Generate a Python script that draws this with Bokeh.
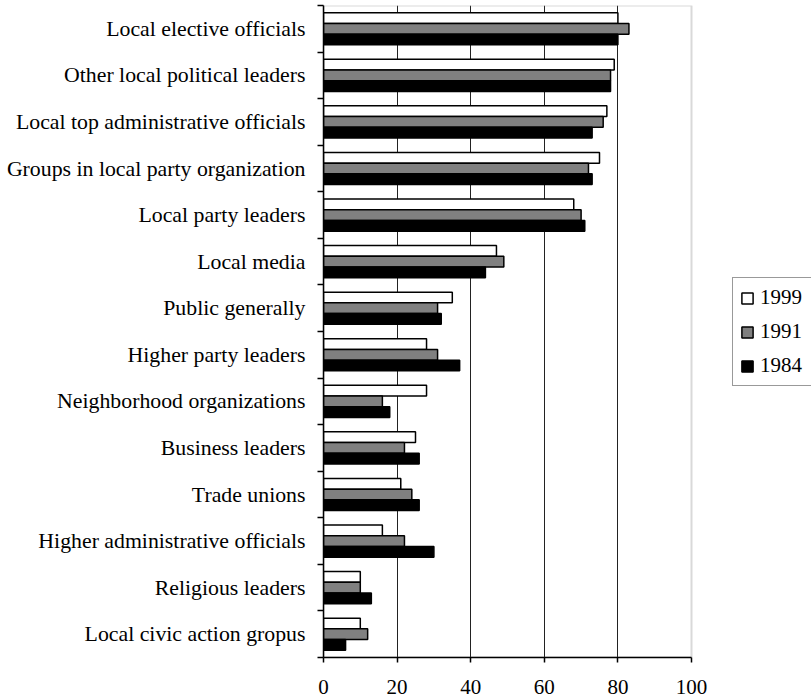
from bokeh.plotting import figure
from bokeh.models import (ColumnDataSource, Range1d, FixedTicker, Legend, LegendItem,
                          BoxAnnotation)
from bokeh.transform import dodge
from bokeh.embed import file_html
from bokeh.resources import INLINE

categories = [
    "Local elective officials",
    "Other local political leaders",
    "Local top administrative officials",
    "Groups in local party organization",
    "Local party leaders",
    "Local media",
    "Public generally",
    "Higher party leaders",
    "Neighborhood organizations",
    "Business leaders",
    "Trade unions",
    "Higher administrative officials",
    "Religious leaders",
    "Local civic action gropus",
]
v1999 = [80, 79, 77, 75, 68, 47, 35, 28, 28, 25, 21, 16, 10, 10]
v1991 = [83, 78, 76, 72, 70, 49, 31, 31, 16, 22, 24, 22, 10, 12]
v1984 = [80, 78, 73, 73, 71, 44, 32, 37, 18, 26, 26, 30, 13, 6]
x_ticks = [0, 20, 40, 60, 80, 100]
x_max = 100

n = len(categories)
ypos = [n - i - 0.5 for i in range(n)]
src = ColumnDataSource(dict(y=ypos, cat=categories, a=v1999, b=v1991, c=v1984))

FONT = "Liberation Serif"

W, H = 811, 700
LEFT, TOP, BOTTOM = 323, 5, 43
FRAME_W = W - LEFT          # frame runs to the right edge; value 100 sits at 368 px
p = figure(width=W, height=H, output_backend="svg", toolbar_location=None,
           x_range=Range1d(0, x_max * FRAME_W / 368), y_range=Range1d(0, n),
           min_border_top=TOP, min_border_left=LEFT, min_border_right=0,
           min_border_bottom=BOTTOM)

bw = 0.23
r1 = p.hbar(y=dodge("y", bw, range=p.y_range), right="a", left=0, height=bw, source=src,
            fill_color="white", line_color="black", line_width=1.5)
r2 = p.hbar(y=dodge("y", 0, range=p.y_range), right="b", left=0, height=bw, source=src,
            fill_color="#808080", line_color="black", line_width=1.5)
r3 = p.hbar(y=dodge("y", -bw, range=p.y_range), right="c", left=0, height=bw, source=src,
            fill_color="black", line_color="black", line_width=1.5)

# plot-area border (0..100)
p.add_layout(BoxAnnotation(left=0, right=x_max, bottom=0, top=n, fill_color=None,
                           fill_alpha=0, line_color="#808080", line_width=2,
                           level="underlay"))

# x axis
p.xaxis.ticker = FixedTicker(ticks=x_ticks)
p.xaxis.bounds = (0, x_max)
p.xaxis.major_tick_out = 5
p.xaxis.major_tick_in = 0
p.xaxis.minor_tick_out = 0
p.xaxis.minor_tick_in = 0
p.xaxis.axis_line_color = "black"
p.xaxis.axis_line_width = 1.5
p.xaxis.major_tick_line_width = 1.5
p.xaxis.major_label_text_font = FONT
p.xaxis.major_label_text_font_size = "21px"
p.xaxis.major_label_text_color = "black"
p.xaxis.major_label_standoff = 17

# y axis: labels at centres, tick marks at band boundaries
p.yaxis.ticker = FixedTicker(ticks=ypos, minor_ticks=list(range(n + 1)))
p.yaxis.major_label_overrides = {y: c for y, c in zip(ypos, categories)}
p.yaxis.major_tick_out = 0
p.yaxis.major_tick_in = 0
p.yaxis.minor_tick_out = 6
p.yaxis.minor_tick_in = 0
p.yaxis.minor_tick_line_color = "black"
p.yaxis.minor_tick_line_width = 1.5
p.yaxis.axis_line_color = "black"
p.yaxis.axis_line_width = 1.5
p.yaxis.major_label_text_font = FONT
p.yaxis.major_label_text_font_size = "21.8px"
p.yaxis.major_label_text_color = "black"
p.yaxis.major_label_standoff = 12

p.ygrid.visible = False
p.xgrid.ticker = FixedTicker(ticks=[20, 40, 60, 80])
p.xgrid.grid_line_color = "#222222"
p.xgrid.grid_line_width = 1

p.outline_line_color = None
p.background_fill_color = "white"
p.border_fill_color = "white"

legend = Legend(items=[LegendItem(label="1999", renderers=[r1]),
                       LegendItem(label="1991", renderers=[r2]),
                       LegendItem(label="1984", renderers=[r3])],
                location=(409, 271))
legend.label_text_font = FONT
legend.label_text_font_size = "21px"
legend.label_text_color = "black"
legend.glyph_width = 14
legend.glyph_height = 14
legend.label_standoff = 6
legend.label_width = 60
legend.spacing = 9
legend.padding = 7
legend.margin = 0
legend.border_line_color = "#333333"
legend.border_line_width = 1
legend.background_fill_alpha = 1
p.add_layout(legend, "center")

open("out.html", "w").write(file_html(p, INLINE))
